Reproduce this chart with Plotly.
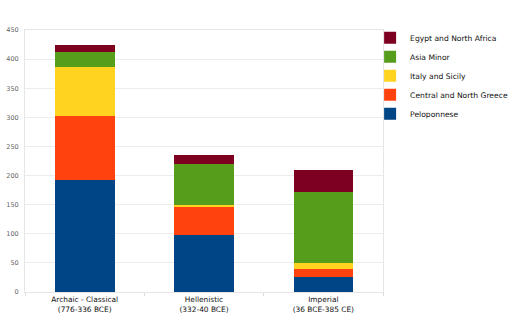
import plotly.graph_objects as go

categories = ["Archaic - Classical<br>(776-336 BCE)", "Hellenistic<br>(332-40 BCE)", "Imperial<br>(36 BCE-385 CE)"]
series_names = ["Peloponnese", "Central and North Greece", "Italy and Sicily", "Asia Minor", "Egypt and North Africa"]
peloponnese = [192, 98, 26]
central_north = [111, 48, 13]
italy_sicily = [83, 3, 11]
asia_minor = [26, 71, 122]
egypt_africa = [12, 15, 38]
y_ticks = [0, 50, 100, 150, 200, 250, 300, 350, 400, 450]

colors = ["#004586", "#ff420e", "#ffd320", "#579d1c", "#7e0021"]
values = [peloponnese, central_north, italy_sicily, asia_minor, egypt_africa]

fig = go.Figure()
for name, vals, col in zip(series_names, values, colors):
    fig.add_trace(go.Bar(x=categories, y=vals, name=name,
                         marker=dict(color=col, line=dict(width=0))))

W, H = 512, 327
L, R, T, B = 25, 383, 30, 292
fig.update_layout(
    width=W, height=H,
    barmode="stack", bargap=0.5,
    margin=dict(l=L, r=W - R, t=T, b=H - B, pad=0, autoexpand=False),
    paper_bgcolor="white", plot_bgcolor="white",
    font=dict(family="DejaVu Sans", size=8, color="#222"),
    legend=dict(x=0.964, y=1.026, xanchor="left", yanchor="top",
                traceorder="reversed", font=dict(size=7.6, color="#111"),
                itemwidth=30, tracegroupgap=0, bgcolor="rgba(0,0,0,0)"),
    xaxis=dict(showgrid=False, showline=True, linecolor="#e6e6e6", linewidth=1,
               mirror=True, ticks="outside", tickcolor="#dddddd", ticklen=3,
               tickson="boundaries", tickfont=dict(size=7.4, color="#111")),
    yaxis=dict(range=[0, 450], tickvals=y_ticks, showgrid=True, gridcolor="#ececec",
               gridwidth=1, showline=True, linecolor="#e6e6e6", mirror=True,
               zeroline=False, ticks="", ticklabelstandoff=4,
               tickfont=dict(size=6.5, color="#666", family="DejaVu Sans")),
)

fig.write_html("out.html")
